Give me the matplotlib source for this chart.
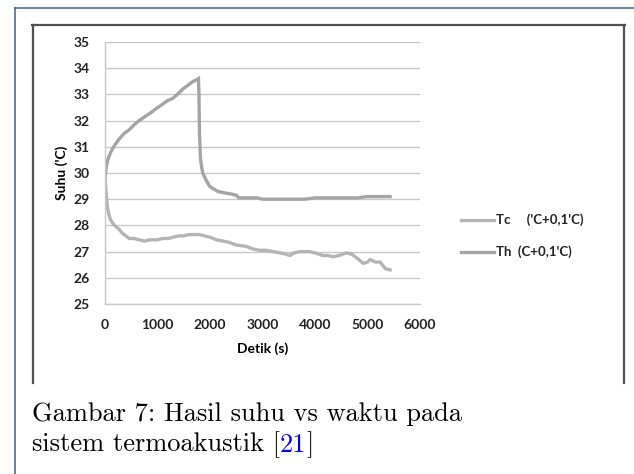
import matplotlib
matplotlib.use("Agg")
import matplotlib.pyplot as plt
from matplotlib.lines import Line2D

# ---- data ----
t_h = [0, 30, 60, 110, 180, 270, 360, 460, 560, 650, 760, 870, 970, 1080, 1180,
       1290, 1380, 1480, 1580, 1680, 1740, 1780, 1790, 1800, 1820, 1860, 1920,
       1990, 2060, 2150, 2250, 2400, 2500, 2550, 2700, 2900, 3000, 3200, 3400,
       3600, 3800, 4000, 4200, 4400, 4600, 4800, 5000, 5200, 5430]
temp_h = [29.85, 30.3, 30.55, 30.8, 31.05, 31.3, 31.5, 31.65, 31.85, 32.0, 32.15,
          32.3, 32.45, 32.6, 32.75, 32.85, 33.0, 33.2, 33.35, 33.5, 33.55, 33.6,
          33.0, 31.5, 30.5, 30.0, 29.75, 29.5, 29.4, 29.3, 29.25, 29.2, 29.15,
          29.05, 29.05, 29.05, 29.0, 29.0, 29.0, 29.0, 29.0, 29.05, 29.05, 29.05,
          29.05, 29.05, 29.1, 29.1, 29.1]

t_c = [0, 20, 45, 75, 110, 160, 210, 270, 330, 400, 460, 550, 650, 750, 850, 1000,
       1100, 1200, 1300, 1400, 1500, 1600, 1700, 1800, 1900, 2000, 2120, 2250,
       2370, 2500, 2690, 2820, 2950, 3070, 3200, 3330, 3450, 3520, 3600, 3710,
       3800, 3900, 4000, 4150, 4250, 4350, 4450, 4600, 4700, 4800, 4920, 5000,
       5050, 5150, 5240, 5300, 5340, 5430]
temp_c = [29.85, 29.3, 28.7, 28.4, 28.2, 28.05, 27.95, 27.85, 27.7, 27.6, 27.5,
          27.5, 27.45, 27.4, 27.45, 27.45, 27.5, 27.5, 27.55, 27.6, 27.6, 27.65,
          27.65, 27.65, 27.6, 27.55, 27.45, 27.4, 27.35, 27.25, 27.2, 27.1, 27.05,
          27.05, 27.0, 26.95, 26.9, 26.85, 26.95, 27.0, 27.0, 27.0, 26.95, 26.85,
          26.85, 26.8, 26.85, 26.95, 26.9, 26.75, 26.55, 26.6, 26.7, 26.6, 26.6,
          26.45, 26.35, 26.3]

x_ticks = [0, 1000, 2000, 3000, 4000, 5000, 6000]
y_ticks = [25, 26, 27, 28, 29, 30, 31, 32, 33, 34, 35]
label_c = "Tc     ('C+0,1'C)"
label_h = "Th  (C+0,1'C)"
x_label = "Detik (s)"
y_label = "Suhu ('C)"
caption1 = "Gambar 7: Hasil suhu vs waktu pada"
caption2 = "sistem termoakustik ["
caption_ref = "21"

W, H = 634, 474
fig = plt.figure(figsize=(W / 100, H / 100), dpi=100)
fig.patch.set_facecolor("white")

def fx(x):
    return x / W

def fy(y):
    return 1 - y / H

left, right, top, bottom = 105, 420, 42, 304
ax = fig.add_axes([fx(left), fy(bottom), fx(right - left), (bottom - top) / H])

tick_font = dict(family="Lato", weight="bold", size=10)

ax.plot(t_c, temp_c, color="#b4b4b4", lw=2.4, label=label_c, solid_joinstyle="miter")
ax.plot(t_h, temp_h, color="#a4a4a4", lw=2.4, label=label_h, solid_joinstyle="miter")

ax.set_xlim(0, 6000)
ax.set_ylim(25, 35)
ax.set_xticks(x_ticks)
ax.set_yticks(y_ticks)
ax.set_xticklabels([str(v) for v in x_ticks], fontdict=tick_font, color="#222222")
ax.set_yticklabels([str(v) for v in y_ticks], fontdict=tick_font, color="#222222")
ax.tick_params(length=0)
ax.tick_params(axis="y", pad=11)
ax.tick_params(axis="x", pad=11)
ax.grid(axis="y", color="#c8c8c8", lw=1.0)
ax.set_axisbelow(True)
for s in ["top", "right"]:
    ax.spines[s].set_visible(False)
for s in ["left", "bottom"]:
    ax.spines[s].set_color("#c8c8c8")
    ax.spines[s].set_linewidth(1.0)
ax.set_xlabel(x_label, fontdict=dict(family="Lato", weight="bold", size=10), labelpad=8)
ax.set_ylabel(y_label, fontdict=dict(family="Lato", weight="bold", size=10), labelpad=4)

leg = fig.legend(loc="center left", bbox_to_anchor=(fx(449), fy(236)), frameon=False,
                 prop=dict(family="Lato", weight="bold", size=9.5), handlelength=2.5,
                 handletextpad=0.2, labelspacing=1.45)
for txt in leg.get_texts():
    txt.set_color("#222222")

# frames
fig.add_artist(Line2D([fx(15), fx(15)], [fy(7.5), fy(474)], color="#3d6191", lw=1.1))
fig.add_artist(Line2D([fx(15), fx(634)], [fy(7.5), fy(7.5)], color="#3d6191", lw=1.1))
fig.add_artist(Line2D([fx(32), fx(624.5)], [fy(25), fy(25)], color="#505050", lw=1.6))
fig.add_artist(Line2D([fx(32.5), fx(32.5)], [fy(25), fy(383)], color="#505050", lw=1.6))
fig.add_artist(Line2D([fx(624), fx(624)], [fy(25), fy(383)], color="#505050", lw=1.6))

# caption
cap_font = dict(family="cmr10", size=19)
fig.text(fx(32), fy(421.5), caption1, ha="left", va="baseline", color="black", **cap_font)
t2 = fig.text(fx(32), fy(451.5), caption2, ha="left", va="baseline", color="black", **cap_font)
t3 = fig.text(0, 0, caption_ref, color="blue", ha="left", va="baseline", **cap_font)

fig.canvas.draw()
r = fig.canvas.get_renderer()
bb = t2.get_window_extent(r)
t3.set_position((bb.x1 / W, fy(451.5)))
fig.canvas.draw()
bb3 = t3.get_window_extent(r)
fig.text(bb3.x1 / W, fy(451.5), "]", ha="left", va="baseline", color="black", **cap_font)

fig.savefig("out.png", dpi=100, facecolor="white")
